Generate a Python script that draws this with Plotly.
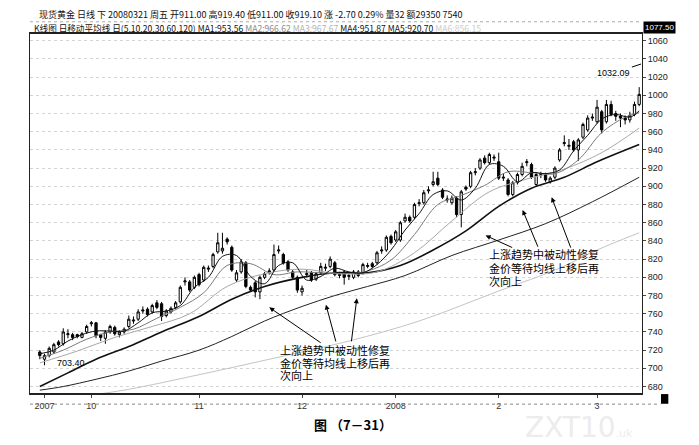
import plotly.graph_objects as go

# 现货黄金 日线, index 0 ~ 2007-09-13 ... 128 ~ 2008-03-13
opens = [718, 710, 714, 718, 729, 727, 737, 737, 737, 734, 740, 749, 750, 737, 733, 740, 745, 737, 740, 746,
         752, 754, 763, 765, 762, 772, 771, 758, 762, 767, 773, 795,
         795, 789, 803, 797, 809, 812, 828, 829, 842, 833, 797, 806, 816, 789, 794, 784, 800, 806,
         808, 829, 825, 817, 806, 800, 784, 803, 805, 798, 805, 810, 812, 816, 802,
         806, 801, 800, 806, 805, 812, 815, 816, 829, 830, 845, 841, 841, 862, 866, 866, 881, 882,
         895, 902, 909, 896, 885, 882, 887, 869, 899, 900, 915, 920, 931, 926, 931,
         927, 909, 907, 891, 904, 913, 926, 924, 902, 912, 913, 905, 910, 929, 947, 944, 949, 940,
         954, 962, 975, 971, 982, 971, 990, 980, 977, 975, 973, 979, 990]
highs = [720, 716, 724, 728, 731, 744, 743, 739, 738, 740, 748, 752, 751, 738, 742, 748, 747, 742, 745, 758,
         757, 765, 768, 767, 771, 775, 773, 765, 768, 774, 791, 800,
         797, 802, 805, 813, 813, 827, 849, 849, 844, 835, 808, 820, 818, 791, 796, 802, 806, 810,
         836, 835, 827, 819, 808, 802, 791, 808, 807, 806, 816, 815, 823, 818, 806,
         808, 806, 808, 808, 816, 816, 817, 829, 834, 846, 847, 852, 862, 870, 868, 882, 886, 896,
         900, 916, 916, 898, 890, 890, 889, 896, 901, 917, 920, 931, 934, 937, 935,
         937, 914, 909, 906, 915, 926, 930, 926, 915, 916, 915, 911, 922, 942, 956, 952, 951, 953,
         970, 978, 980, 995, 984, 995, 994, 983, 980, 978, 982, 993, 1009]
lows = [710, 703.4, 712, 716, 724, 725, 733, 731, 733, 733, 738, 746, 733, 730, 727, 738, 736, 734, 738, 744,
        749, 752, 760, 757, 760, 765, 752, 756, 760, 765, 771, 791,
        784, 787, 790, 795, 806, 810, 826, 826, 836, 806, 795, 804, 788, 784, 778, 776, 798, 803,
        806, 826, 814, 806, 798, 783, 780, 800, 795, 796, 803, 807, 810, 801, 799,
        792, 797, 798, 800, 803, 810, 810, 814, 826, 828, 836, 839, 839, 860, 860, 864, 878, 880,
        892, 900, 900, 886, 882, 880, 866, 855, 895, 898, 912, 918, 924, 924, 928,
        907, 906, 889, 889, 902, 911, 922, 908, 900, 909, 905, 903, 908, 927, 944, 940, 938, 928,
        952, 960, 972, 969, 958, 969, 977, 972, 965, 968, 970, 977, 988]
closes = [714, 714, 722, 726, 726, 740, 738, 734, 735, 738, 746, 750, 736, 734, 740, 746, 738, 740, 743, 754,
          753, 762, 764, 759, 769, 767, 757, 763, 766, 772, 789, 796,
          786, 800, 792, 811, 810, 825, 838, 832, 839, 808, 805, 817, 790, 786, 784, 800, 804, 807,
          825, 830, 816, 808, 800, 786, 788, 804, 797, 804, 812, 811, 820, 803, 803,
          800, 802, 806, 802, 814, 813, 812, 827, 830, 844, 838, 850, 860, 866, 862, 880, 882, 893,
          896, 905, 902, 888, 886, 887, 869, 894, 897, 915, 916, 929, 926, 935, 932,
          909, 910, 891, 904, 913, 922, 927, 910, 913, 913, 907, 909, 920, 940, 948, 945, 940, 951,
          968, 975, 976, 987, 962, 990, 979, 977, 975, 973, 978, 990, 1001]
days = list(range(len(closes)))

# moving average lines, read at sample points
ma5_x = list(range(0, 127, 3)) + [128]
ma5 = [716, 720, 730, 737, 741, 741, 741, 750, 761, 763, 769, 789, 800, 823, 824, 801, 793, 813, 816, 797,
       801, 810, 806, 805, 814, 830, 852, 870, 891, 895, 885, 898, 924, 922, 905, 915, 914, 918, 939, 956,
       974, 979, 976, 983]
ma10_x = list(range(0, 126, 5)) + [128]
ma10 = [711, 720, 732, 740, 743, 755, 767, 783, 813, 815, 803, 806, 805, 804, 807, 819, 847, 880, 890, 901,
        916, 915, 914, 929, 959, 976, 981]
ma20_x = list(range(0, 129, 8))
ma20 = [706, 719, 734, 746, 760, 790, 804, 809, 804, 806, 827, 862, 894, 908, 919, 937, 964]
ma30_x = [0, 6, 12, 19, 26, 34, 41, 48, 56, 63, 70, 77, 84, 91, 98, 105, 112, 119, 128]
ma30 = [680, 695, 710, 724, 740, 757, 776, 790, 800, 805, 805, 813, 830, 851, 878, 898, 910, 927, 946]
ma60_x = [0, 5, 12, 19, 26, 34, 41, 48, 56, 63, 70, 78, 88, 98, 108, 118, 128]
ma60 = [676, 680, 688, 697, 708, 720, 735, 752, 768, 780, 790, 802, 824, 841, 859, 883, 910]
ma120_x = [0, 10, 19, 34, 49, 66, 81, 98, 111, 119, 128]
ma120 = [664, 670, 677, 693, 710, 730, 752, 785, 810, 830, 849]

month_ticks = [1, 11, 34, 56, 76, 98, 119]
month_labels = ["2007", "10", "11", "12", "2008", "2", "3"]
price_ticks = list(range(680, 1061, 20))

note_lines = ["上涨趋势中被动性修复", "金价等待均线上移后再", "次向上"]

fig = go.Figure()

ma_style = [
    (ma120_x, ma120, "#c4c4c4", 1),
    (ma60_x, ma60, "#222222", 1),
    (ma30_x, ma30, "#111111", 1.6),
    (ma20_x, ma20, "#a8a8a8", 1),
    (ma10_x, ma10, "#7a7a7a", 1),
    (ma5_x, ma5, "#111111", 1),
]
for mx, my, col, w in ma_style:
    fig.add_trace(go.Scatter(x=mx, y=my, mode="lines", line=dict(color=col, width=w, shape="spline"),
                             hoverinfo="skip", showlegend=False))

fig.add_trace(go.Candlestick(
    x=days, open=opens, high=highs, low=lows, close=closes,
    increasing=dict(line=dict(color="black", width=1), fillcolor="white"),
    decreasing=dict(line=dict(color="black", width=1), fillcolor="black"),
    whiskerwidth=0, showlegend=False, hoverinfo="skip",
))

cjk = "Noto Sans CJK SC"
annos = []
# two copies of the note, one line per annotation so the line spacing matches
for left, rows in [(0.405, [0.120, 0.084, 0.050]), (0.747, [0.387, 0.349, 0.313])]:
    for line, yy in zip(note_lines, rows):
        annos.append(dict(x=left, y=yy, xref="paper", yref="paper", text=line, showarrow=False,
                          xanchor="left", yanchor="middle", font=dict(family=cjk, size=11, color="black")))

# arrows: (tip x, tip y, tail x, tail y)
arrows = [
    (49.0, 767, 60.3, 727), (61.1, 770, 63.3, 728), (67.7, 777, 66.5, 728),
    (95.2, 846, 101.2, 832), (103.1, 874, 106.5, 832), (109.3, 888, 113.5, 831),
]
for tx, ty, sx, sy in arrows:
    annos.append(dict(x=tx, y=ty, ax=sx, ay=sy, xref="x", yref="y", axref="x", ayref="y", text="",
                      showarrow=True, arrowhead=2, arrowsize=1, arrowwidth=1, arrowcolor="black"))

annos.append(dict(x=3.2, y=705.8, xref="x", yref="y", text="703.40", showarrow=False, xanchor="left",
                  font=dict(family="Liberation Sans", size=9, color="black")))
annos.append(dict(x=128.4, y=1034.4, ax=122.6, ay=1024.5, xref="x", yref="y", axref="x", ayref="y",
                  text="1032.09", showarrow=True, arrowhead=0, arrowwidth=1, arrowcolor="black", standoff=0,
                  font=dict(family="Liberation Sans", size=9, color="black")))

head1 = "现货黄金 日线 下 20080321 周五 开911.00 高919.40 低911.00 收919.10 涨 -2.70 0.29% 量32 额29350 7540"
head2 = ('K线图 日移动平均线 日(5,10,20,30,60,120) MA1:953.56 '
         '<span style="color:#8a8a8a">MA2:966.62</span> '
         '<span style="color:#b4b4b4">MA3:967.67</span> MA4:951.87 MA5:920.70 '
         '<span style="color:#cccccc">MA6:856.15</span>')
annos.append(dict(x=0.011, y=1.053, xref="paper", yref="paper", text=head1, showarrow=False,
                  xanchor="left", yanchor="middle", font=dict(family=cjk, size=9, color="#111")))
annos.append(dict(x=0.003, y=1.017, xref="paper", yref="paper", text=head2, showarrow=False,
                  xanchor="left", yanchor="middle", font=dict(family=cjk, size=8.6, color="#111")))
annos.append(dict(x=1.002, y=1.017, xref="paper", yref="paper", text="1077.50", showarrow=False,
                  xanchor="left", yanchor="middle", bgcolor="black", borderpad=1,
                  font=dict(family="Liberation Sans", size=8, color="white")))
annos.append(dict(x=0.528, y=-0.089, xref="paper", yref="paper", text="<b>图 （7－31）</b>", showarrow=False,
                  yanchor="middle", font=dict(family=cjk, size=13, color="black")))
annos.append(dict(x=0.989, y=-0.095, xref="paper", yref="paper",
                  text="ZXT10<span style='font-size:11px'>.uk</span>", showarrow=False, yanchor="middle",
                  font=dict(family="DejaVu Sans", size=28, color="#ececec")))

shapes = [
    dict(type="line", xref="paper", yref="paper", x0=0, x1=1.03, y0=-0.031, y1=-0.031,
         line=dict(color="#888", width=1, dash="dot")),
    dict(type="line", xref="paper", yref="paper", x0=0, x1=1.0, y0=1.034, y1=1.034,
         line=dict(color="#aaa", width=1, dash="dot")),
    dict(type="rect", xref="paper", yref="paper", x0=1.031, x1=1.043, y0=-0.003, y1=-0.03,
         fillcolor="black", line=dict(width=0)),
]

# the page body adds an 8px margin, so the figure is drawn 8px smaller
fig.update_layout(
    width=691, height=437,
    margin=dict(l=22, r=57, t=26, b=52),
    paper_bgcolor="white", plot_bgcolor="white",
    annotations=annos, shapes=shapes,
    xaxis=dict(range=[-2.1, 128.6], rangeslider=dict(visible=False), tickvals=month_ticks,
               ticktext=month_labels, ticks="outside", ticklen=3, tickcolor="#444",
               showgrid=False, showline=True, linecolor="#222", linewidth=1.5, mirror=True,
               zeroline=False, tickfont=dict(family="Liberation Sans", size=9, color="#333")),
    yaxis=dict(range=[672.9, 1067.4], side="right", tickvals=price_ticks, ticks="outside", ticklen=3,
               tickcolor="#444", showline=True, linecolor="#222", linewidth=1, mirror=True,
               showgrid=True, gridcolor="#d4d4d4", griddash="dot", zeroline=False,
               tickfont=dict(family="Liberation Sans", size=9, color="#222")),
)

fig.write_html("out.html")
